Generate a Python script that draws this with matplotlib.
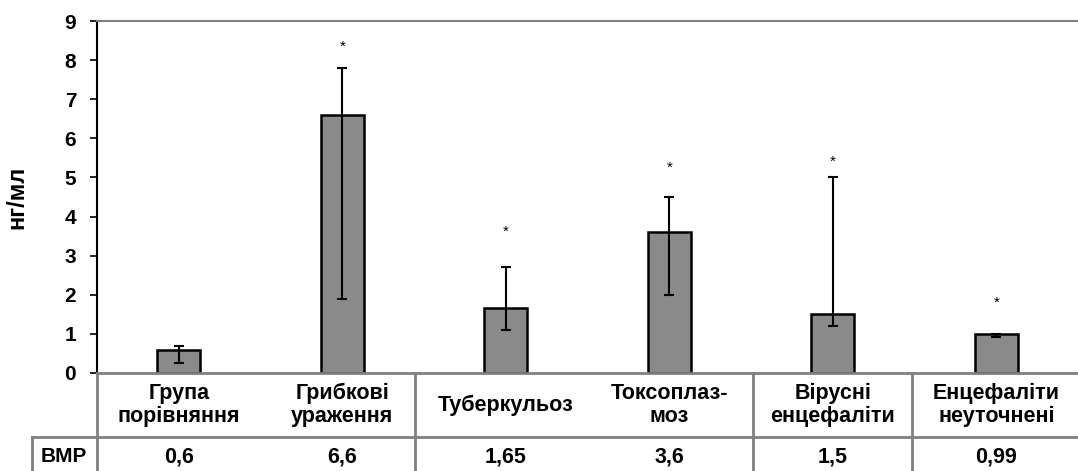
import numpy as np
import matplotlib.pyplot as plt

plt.rcParams['font.family'] = ['Liberation Sans', 'DejaVu Sans']

# data
labels = ["Група\nпорівняння", "Грибкові\nураження", "Туберкульоз",
          "Токсоплаз-\nмоз", "Вірусні\nенцефаліти", "Енцефаліти\nнеуточнені"]
vmp = [0.6, 6.6, 1.65, 3.6, 1.5, 0.99]
vmp_txt = ["0,6", "6,6", "1,65", "3,6", "1,5", "0,99"]
err_low = [0.25, 1.9, 1.1, 2.0, 1.2, 0.92]
err_high = [0.7, 7.8, 2.7, 4.5, 5.0, 0.99]
star_y = [None, 8.35, 3.6, 5.25, 5.4, 1.8]

x = np.arange(len(vmp))
vals = np.array(vmp)
yerr = [vals - np.array(err_low), np.array(err_high) - vals]

fig = plt.figure(figsize=(10.78, 4.71), dpi=100)
ax = fig.add_axes([97/1078, 98/471, 1 - 97/1078, (373-21)/471])

ax.bar(x, vals, width=0.26, color="#8a8a8a", edgecolor="black", linewidth=1.8, zorder=2)
ax.errorbar(x, vals, yerr=yerr, fmt="none", ecolor="black", elinewidth=1.5,
            capsize=3.5, capthick=1.5, zorder=3)
for i, sy in enumerate(star_y):
    if sy is not None:
        ax.text(x[i], sy, "*", ha="center", va="center", fontsize=11)

ax.set_xlim(-0.5, 5.5)
ax.set_ylim(0, 9)
ax.set_yticks(range(10))
ax.set_xticks([])
for lbl in ax.get_yticklabels():
    lbl.set_fontweight("bold")
ax.tick_params(axis="y", labelsize=15, length=5, width=1.2, direction="out", pad=10)
ax.spines["right"].set_visible(False)
ax.spines["bottom"].set_visible(False)
ax.spines["top"].set_color("#808080")
ax.spines["top"].set_linewidth(1.5)
ax.spines["left"].set_linewidth(1.5)
ax.set_ylabel("нг/мл", fontsize=17, fontweight="bold", labelpad=26)

# table below the axis
tr = ax.get_xaxis_transform()
gray = "#808080"
def yfig(py):
    return (471 - py) / 471
ax.plot([-0.5, 5.5], [0, 0], color=gray, lw=2, transform=tr, clip_on=False, zorder=4)
row_y = yfig(437)
fig.add_artist(plt.Line2D([32/1078, 1], [row_y, row_y], color=gray, lw=2))
for px in [97, 415, 753, 912]:
    fig.add_artist(plt.Line2D([px/1078, px/1078], [0, yfig(373)], color=gray, lw=2))
fig.add_artist(plt.Line2D([32/1078, 32/1078], [0, row_y], color=gray, lw=2))

for i in range(len(labels)):
    xf = fig.transFigure.inverted().transform(ax.transData.transform((x[i], 0)))[0]
    fig.text(xf, yfig(405), labels[i], ha="center", va="center", fontsize=15.5,
             fontweight="bold", linespacing=1.1)
    fig.text(xf, yfig(457), vmp_txt[i], ha="center", va="center", fontsize=15.5,
             fontweight="bold")
fig.text(64/1078, yfig(457), "ВМР", ha="center", va="center", fontsize=15,
         fontweight="bold")

plt.savefig("out.png", dpi=100)
